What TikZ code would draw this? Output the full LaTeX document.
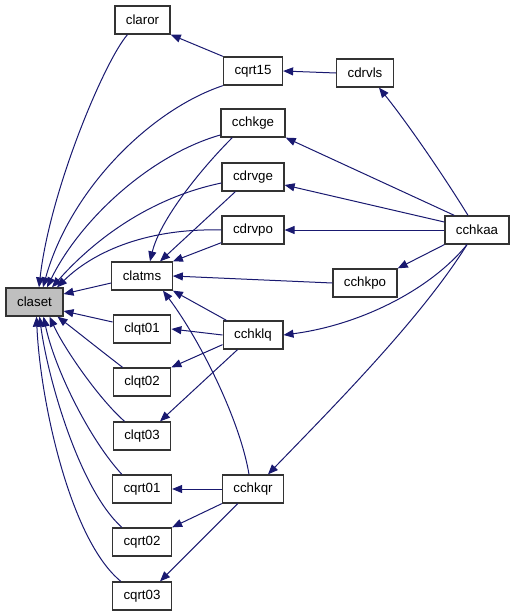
\documentclass[tikz,border=0pt]{standalone}
\usepackage{fontspec}
\setmainfont{Liberation Sans}
\usetikzlibrary{arrows.meta,calc}
\definecolor{edgeblue}{HTML}{191970}
\definecolor{nodegray}{HTML}{BFBFBF}
\definecolor{borderc}{HTML}{333333}
\tikzset{
  box/.style={draw=borderc, line width=1.3pt, fill=white, minimum height=28pt, inner xsep=11pt, inner ysep=0pt, font=\fontsize{13.3}{16}\selectfont, text=black},
  hl/.style={box, fill=nodegray},
  edge/.style={draw=edgeblue, line width=1pt, -{Triangle[length=10pt,width=8pt]}}
}
\begin{document}
\begin{tikzpicture}[x=1pt,y=-1pt]
\useasboundingbox (0,0) rectangle (515,616);
% nodes
\node[hl]  (claset) at (34.5,302) {claset};
\node[box] (claror) at (142.5,20) {claror};
\node[box] (cqrt15) at (253,71) {cqrt15};
\node[box] (cdrvls) at (365,73) {cdrvls};
\node[box] (cchkge) at (253,123) {cchkge};
\node[box] (cdrvge) at (253,177) {cdrvge};
\node[box] (cdrvpo) at (253,230) {cdrvpo};
\node[box] (cchkaa) at (477,230) {cchkaa};
\node[box] (clatms) at (142,276) {clatms};
\node[box] (cchkpo) at (365,283) {cchkpo};
\node[box] (clqt01) at (142,329) {clqt01};
\node[box] (cchklq) at (253,335) {cchklq};
\node[box] (clqt02) at (142,382) {clqt02};
\node[box] (clqt03) at (142,436) {clqt03};
\node[box] (cqrt01) at (142,489) {cqrt01};
\node[box] (cchkqr) at (253,489) {cchkqr};
\node[box] (cqrt02) at (142,542) {cqrt02};
\node[box] (cqrt03) at (142,596) {cqrt03};
% edges into claset from above
\draw[edge] ($(claror.south)+(-15,0)$) .. controls (105,60) and (50,190) .. ($(claset.north)+(4.5,0)$);
\draw[edge] (cqrt15.south west) .. controls (150,110) and (70,190) .. ($(claset.north)+(8.5,0)$);
\draw[edge] ($(cchkge.west)+(0,12)$) .. controls (150,155) and (80,220) .. ($(claset.north)+(12.5,0)$);
\draw[edge] ($(cdrvge.west)+(0,6)$) .. controls (140,200) and (85,250) .. ($(claset.north)+(17.5,0)$);
\draw[edge] (cdrvpo.west) .. controls (150,228) and (95,250) .. ($(claset.north)+(22.5,0)$);
% side edges into claset
\draw[edge] ($(clatms.west)+(0,7)$) -- ($(claset.east)+(0,-8)$);
\draw[edge] ($(clqt01.west)+(0,-7)$) -- ($(claset.east)+(0,9)$);
% edges into claset from below
\draw[edge] ($(clqt02.north west)+(10,0)$) .. controls (100,350) and (75,330) .. ($(claset.south)+(23,0)$);
\draw[edge] ($(clqt03.north west)+(12,0)$) .. controls (100,400) and (65,350) .. ($(claset.south)+(15,0)$);
\draw[edge] ($(cqrt01.north west)+(10,0)$) .. controls (90,440) and (55,370) .. ($(claset.south)+(9,0)$);
\draw[edge] ($(cqrt02.north west)+(10,0)$) .. controls (80,490) and (48,380) .. ($(claset.south)+(5,0)$);
\draw[edge] ($(cqrt03.north west)+(9,0)$) .. controls (70,540) and (40,400) .. ($(claset.south)+(2,0)$);
% upper chain
\draw[edge] (cqrt15.north west) -- (claror.south east);
\draw[edge] (cdrvls.west) -- (cqrt15.east);
% from cchkaa
\draw[edge] ($(cchkaa.north)+(-9,0)$) .. controls (440,170) and (405,120) .. ($(cdrvls.south)+(14,0)$);
\draw[edge] ($(cchkaa.north west)+(10,0)$) -- (cchkge.south east);
\draw[edge] ($(cchkaa.west)+(0,-8)$) -- ($(cdrvge.east)+(0,8)$);
\draw[edge] (cchkaa.west) -- (cdrvpo.east);
\draw[edge] (cchkaa.south west) -- (cchkpo.north east);
\draw[edge] ($(cchkaa.south)+(-10,0)$) .. controls (430,290) and (360,325) .. (cchklq.east);
\draw[edge] ($(cchkaa.south)+(-10,0)$) .. controls (420,320) and (330,410) .. ($(cchkqr.north)+(15,0)$);
% into clatms
\draw[edge] ($(cchkge.south west)+(12,0)$) .. controls (200,170) and (160,220) .. ($(clatms.north)+(8,0)$);
\draw[edge] ($(cdrvge.south west)+(14,0)$) -- ($(clatms.north)+(18,0)$);
\draw[edge] ($(cdrvpo.south west)+(0,-2)$) -- (clatms.north east);
\draw[edge] (cchkpo.west) -- (clatms.east);
\draw[edge] ($(cchklq.north west)+(4,0)$) -- (clatms.south east);
\draw[edge] ($(cchkqr.north)+(-4,0)$) .. controls (240,420) and (200,340) .. ($(clatms.south)+(21,0)$);
% from cchklq
\draw[edge] (cchklq.west) -- (clqt01.east);
\draw[edge] ($(cchklq.south west)+(0,-5)$) -- (clqt02.north east);
\draw[edge] ($(cchklq.south west)+(15,0)$) -- ($(clqt03.north)+(18,0)$);
% from cchkqr
\draw[edge] (cchkqr.west) -- (cqrt01.east);
\draw[edge] (cchkqr.south west) -- (cqrt02.north east);
\draw[edge] ($(cchkqr.south west)+(16,0)$) -- ($(cqrt03.north)+(18,0)$);
\end{tikzpicture}
\end{document}
